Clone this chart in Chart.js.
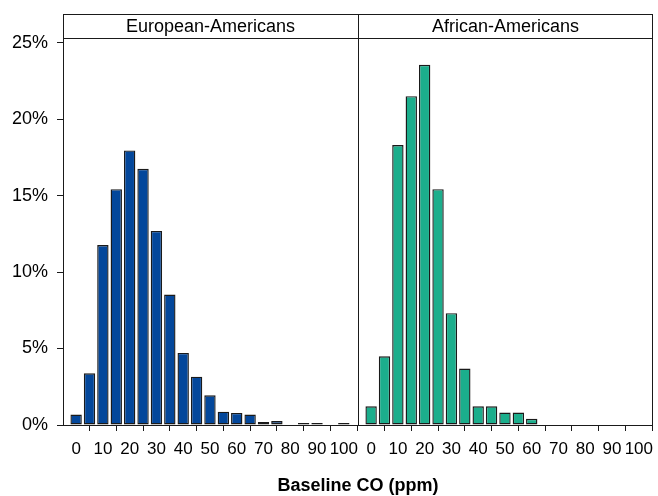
<!DOCTYPE html>
<html><head><meta charset="utf-8">
<script src="https://cdn.jsdelivr.net/npm/chart.js@4"></script>
<style>html,body{margin:0;padding:0;background:#fff}canvas{display:block}</style>
</head><body>
<canvas id="c" width="658" height="496"></canvas>
<script>
// ---- data ----
const bins = [0,5,10,15,20,25,30,35,40,45,50,55,60,65,70,75,80,85,90,95,100];
const panels = ['European-Americans', 'African-Americans'];
const european = [0.68,3.38,11.76,15.42,17.95,16.75,12.69,8.53,4.71,3.16,1.94,0.87,0.79,0.68,0.19,0.26,0,0.13,0.13,0,0.13];
const african  = [1.22,4.49,18.30,21.50,23.55,15.42,7.31,3.69,1.22,1.22,0.81,0.81,0.41,0,0,0,0,0,0,0,0];
const xTicks = [0,10,20,30,40,50,60,70,80,90,100];
const yTicks = [0,5,10,15,20,25];
const xTitle = 'Baseline CO (ppm)';

// ---- style ----
const FONT = '"Liberation Sans", Arial, Helvetica, sans-serif';
const LINE = '#1a1a1a';
const STRIP_H = 24.5;
Chart.defaults.font.family = FONT;
Chart.defaults.color = '#000';

const framePlugin = {
  id: 'frame',
  afterDraw(chart) {
    const {ctx, chartArea: a, scales} = chart;
    const L = Math.round(a.left) + 0.5, R = Math.round(a.right) - 0.5;
    const B = Math.round(a.bottom) + 0.5, T = Math.round(a.top) + 0.5;
    const ST = Math.round(a.top - STRIP_H) + 0.5;
    ctx.save();
    ctx.strokeStyle = LINE; ctx.lineWidth = 1;
    ctx.strokeRect(L, ST, R - L, B - ST);
    ctx.beginPath();
    ctx.moveTo(L, T); ctx.lineTo(R, T);
    const d = Math.round(scales.x1.right) + 0.5;
    ctx.moveTo(d, ST); ctx.lineTo(d, B);
    ctx.stroke();
    ctx.fillStyle = '#000';
    ctx.font = '18px ' + FONT;
    ctx.textAlign = 'center'; ctx.textBaseline = 'middle';
    [scales.x1, scales.x2].forEach((s, i) => {
      ctx.fillText(panels[i], (s.left + s.right) / 2, a.top - STRIP_H / 2 + 1);
    });
    ctx.restore();
  }
};

function xScale(id) {
  return {
    type: 'linear', position: 'bottom', stack: 'panels', stackWeight: 1,
    min: -4.9, max: 105.3, offset: false,
    afterBuildTicks: s => { s.ticks = xTicks.map(v => ({value: v})); },
    afterFit: s => { s.height = 36; s.paddingLeft = 0; s.paddingRight = 0; },
    border: {display: false},
    grid: {drawOnChartArea: false, drawTicks: true, tickLength: 6, color: LINE, lineWidth: 1},
    ticks: {font: {size: 17}, padding: 8, maxRotation: 0, autoSkip: false, color: '#000'}
  };
}

const ds = (data, axis, color, label) => ({
  label, xAxisID: axis, yAxisID: 'y',
  data: bins.map((b, i) => ({x: b, y: data[i]})),
  backgroundColor: color, borderColor: LINE, borderWidth: 1.4,
  barPercentage: 0.85, categoryPercentage: 1, grouped: false, borderSkipped: false
});

new Chart(document.getElementById('c'), {
  type: 'bar',
  data: {
    datasets: [
      ds(european, 'x1', '#03479b', panels[0]),
      ds(african, 'x2', '#1bae8c', panels[1])
    ]
  },
  options: {
    responsive: false, devicePixelRatio: 1, animation: false,
    layout: {padding: {left: 0, right: 5, top: 38, bottom: 1}},
    plugins: {
      legend: {display: false}, tooltip: {enabled: false},
      title: {
        display: true, text: xTitle, position: 'bottom', fullSize: false,
        font: {size: 18, weight: 'bold', lineHeight: 1}, color: '#000',
        padding: {top: 16, bottom: 0}
      }
    },
    scales: {
      x1: xScale('x1'),
      x2: xScale('x2'),
      y: {
        type: 'linear', position: 'left', min: 0, max: 25.3,
        afterBuildTicks: s => { s.ticks = yTicks.map(v => ({value: v})); },
        afterFit: s => { s.width = 63; s.paddingTop = 0; s.paddingBottom = 0; },
        border: {display: false},
        grid: {drawOnChartArea: false, drawTicks: true, tickLength: 6, color: LINE, lineWidth: 1},
        ticks: {font: {size: 18}, padding: 9, color: '#000', callback: v => v + '%'}
      }
    }
  },
  plugins: [framePlugin]
});
</script>
</body></html>
